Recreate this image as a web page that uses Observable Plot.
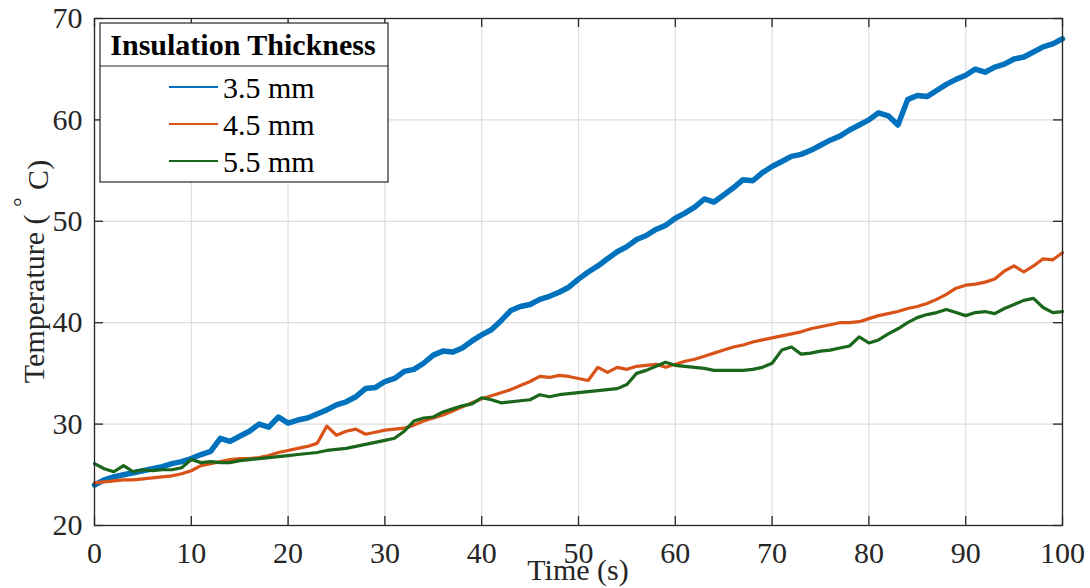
<!DOCTYPE html>
<html><head><meta charset="utf-8">
<script src="https://cdn.jsdelivr.net/npm/d3@7"></script>
<script src="https://cdn.jsdelivr.net/npm/@observablehq/plot@0.6"></script>
<style>body{margin:0;background:#fff;} #chart{width:1090px;height:588px;}</style>
</head><body><div id="chart"></div>
<script>
// sample times (s)
const times = d3.range(0, 101, 1);
const seriesNames = ["3.5 mm", "4.5 mm", "5.5 mm"];
const seriesColors = ["#0072BD", "#D95319", "#1A661A"];
const t35 = [24.0,24.5,24.8,25.0,25.2,25.4,25.6,25.8,26.1,26.3,26.6,27.0,27.3,28.6,28.3,28.8,29.3,30.0,29.7,30.7,
  30.1,30.4,30.6,31.0,31.4,31.9,32.2,32.7,33.5,33.6,34.2,34.5,35.2,35.4,36.0,36.8,37.2,37.1,37.5,38.2,
  38.8,39.3,40.2,41.2,41.6,41.8,42.3,42.6,43.0,43.5,44.3,45.0,45.6,46.3,47.0,47.5,48.2,48.6,49.2,49.6,
  50.3,50.8,51.4,52.2,51.9,52.6,53.3,54.1,54.0,54.8,55.4,55.9,56.4,56.6,57.0,57.5,58.0,58.4,59.0,59.5,
  60.0,60.7,60.4,59.5,62.0,62.4,62.3,62.9,63.5,64.0,64.4,65.0,64.7,65.2,65.5,66.0,66.2,66.7,67.2,67.5,68.0];
const t45 = [24.2,24.3,24.4,24.5,24.5,24.6,24.7,24.8,24.9,25.1,25.4,25.9,26.1,26.3,26.5,26.6,26.6,26.7,26.9,27.2,
  27.4,27.6,27.8,28.1,29.8,28.9,29.3,29.5,29.0,29.2,29.4,29.5,29.6,29.9,30.3,30.6,30.9,31.3,31.7,32.1,
  32.5,32.8,33.1,33.4,33.8,34.2,34.7,34.6,34.8,34.7,34.5,34.3,35.6,35.1,35.6,35.4,35.7,35.8,35.9,35.6,
  35.9,36.2,36.4,36.7,37.0,37.3,37.6,37.8,38.1,38.3,38.5,38.7,38.9,39.1,39.4,39.6,39.8,40.0,40.0,40.1,
  40.4,40.7,40.9,41.1,41.4,41.6,41.9,42.3,42.8,43.4,43.7,43.8,44.0,44.3,45.1,45.6,45.0,45.6,46.3,46.2,46.9];
const t55 = [26.1,25.6,25.3,25.9,25.3,25.5,25.4,25.5,25.5,25.7,26.5,26.2,26.3,26.2,26.2,26.4,26.5,26.6,26.7,26.8,
  26.9,27.0,27.1,27.2,27.4,27.5,27.6,27.8,28.0,28.2,28.4,28.6,29.3,30.3,30.6,30.7,31.2,31.5,31.8,32.0,
  32.6,32.4,32.1,32.2,32.3,32.4,32.9,32.7,32.9,33.0,33.1,33.2,33.3,33.4,33.5,33.9,35.0,35.3,35.7,36.1,
  35.8,35.7,35.6,35.5,35.3,35.3,35.3,35.3,35.4,35.6,36.0,37.3,37.6,36.9,37.0,37.2,37.3,37.5,37.7,38.6,
  38.0,38.3,38.9,39.4,40.0,40.5,40.8,41.0,41.3,41.0,40.7,41.0,41.1,40.9,41.4,41.8,42.2,42.4,41.5,41.0,41.1];
const xTicks = [0,10,20,30,40,50,60,70,80,90,100];
const yTicks = [20,30,40,50,60,70];

const W = 1090, H = 588, mL = 94, mR = 28, mT = 18, mB = 63;
const innerW = W - mL - mR, innerH = H - mT - mB;
const axisColor = "#262626";
const font = "'Liberation Serif', 'Times New Roman', serif";
const FS = 30;

const toRows = (vals) => times.map((t, i) => ({t, v: vals[i]}));
const lineData = [toRows(t35), toRows(t45), toRows(t55)];
const widths = [5.5, 3.2, 3.2];

const chart = Plot.plot({
  width: W, height: H,
  marginLeft: mL, marginRight: mR, marginTop: mT, marginBottom: mB,
  x: {domain: [0, 100]},
  y: {domain: [20, 70]},
  style: {fontFamily: font, fontSize: FS + "px", color: axisColor, background: "#fff"},
  marks: [
    Plot.gridX(xTicks, {stroke: "#dedede", strokeOpacity: 1, strokeWidth: 1.2}),
    Plot.gridY(yTicks, {stroke: "#dedede", strokeOpacity: 1, strokeWidth: 1.2}),
    ...lineData.map((d, i) => Plot.line(d, {x: "t", y: "v", stroke: seriesColors[i], strokeWidth: widths[i], strokeLinejoin: "round"})),
    Plot.frame({stroke: axisColor, strokeWidth: 1.3}),
    Plot.tickX(xTicks, {x: d => d, insetTop: innerH - 9, stroke: axisColor, strokeWidth: 1.3}),
    Plot.tickX(xTicks, {x: d => d, insetBottom: innerH - 9, stroke: axisColor, strokeWidth: 1.3}),
    Plot.tickY(yTicks, {y: d => d, insetRight: innerW - 9, stroke: axisColor, strokeWidth: 1.3}),
    Plot.tickY(yTicks, {y: d => d, insetLeft: innerW - 9, stroke: axisColor, strokeWidth: 1.3}),
    Plot.axisX(xTicks, {tickSize: 0, tickPadding: 16, label: null, fill: axisColor}),
    Plot.axisY(yTicks, {tickSize: 0, tickPadding: 12, label: null, fill: axisColor})
  ]
});
document.getElementById("chart").appendChild(chart);

const svg = d3.select(chart);
// axis titles
svg.append("text").attr("x", mL + innerW / 2).attr("y", 580)
  .attr("text-anchor", "middle").attr("fill", axisColor).style("font-size", FS + "px").style("font-family", font)
  .text("Time (s)");
const yl = svg.append("text")
  .attr("transform", `translate(44,${mT + innerH / 2}) rotate(-90)`)
  .attr("text-anchor", "middle").attr("fill", axisColor).style("font-size", FS + "px").style("font-family", font);
yl.append("tspan").text("Temperature ( ");
yl.append("tspan").attr("dy", "-0.6em").style("font-size", "24px").text("°");
yl.append("tspan").attr("dy", "0.6em").text(" C)");

// legend
const lg = svg.append("g").style("font-family", font);
lg.append("rect").attr("x", 100).attr("y", 23).attr("width", 288).attr("height", 159)
  .attr("fill", "#fff").attr("stroke", axisColor).attr("stroke-width", 1.2);
lg.append("line").attr("x1", 100).attr("x2", 388).attr("y1", 66).attr("y2", 66)
  .attr("stroke", axisColor).attr("stroke-width", 1.2);
lg.append("text").attr("x", 243).attr("y", 55).attr("text-anchor", "middle")
  .style("font-size", FS + "px").style("font-weight", "bold").attr("fill", "#000").text("Insulation Thickness");
seriesNames.forEach((name, i) => {
  const y = 87 + i * 37;
  lg.append("line").attr("x1", 169).attr("x2", 218).attr("y1", y).attr("y2", y)
    .attr("stroke", seriesColors[i]).attr("stroke-width", 2);
  lg.append("text").attr("x", 223).attr("y", y + 11).attr("text-anchor", "start")
    .style("font-size", FS + "px").attr("fill", "#000").text(name);
});
</script>
</body></html>
